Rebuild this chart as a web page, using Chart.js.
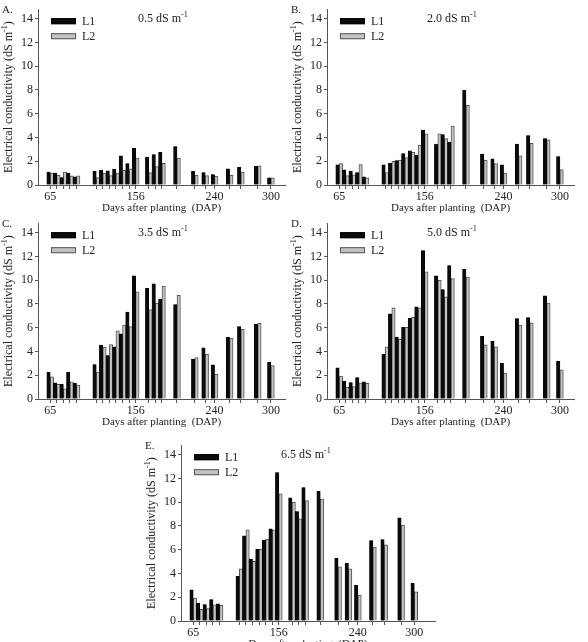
<!DOCTYPE html>
<html>
<head>
<meta charset="utf-8">
<script src="https://cdn.jsdelivr.net/npm/chart.js@4/dist/chart.umd.min.js"></script>
<style>
  body { margin: 0; background: #fff; width: 588px; height: 642px; overflow: hidden; position: relative; }
  canvas { position: absolute; }
</style>
</head>
<body>
<canvas id="cA" width="290" height="215" style="left:0;top:0"></canvas>
<canvas id="cB" width="290" height="215" style="left:289px;top:0"></canvas>
<canvas id="cC" width="290" height="215" style="left:0;top:214px"></canvas>
<canvas id="cD" width="290" height="215" style="left:289px;top:214px"></canvas>
<canvas id="cE" width="300" height="215" style="left:143px;top:436px"></canvas>
<script>
// sampling days (DAP) and labelled ticks
var days = [65, 72, 79, 86, 93, 114, 121, 128, 135, 142, 149, 156, 170, 177, 184, 200, 219, 230, 240, 256, 268, 286, 300];
var dayLabels = [65, 156, 240, 300];
var yTicks = [0, 2, 4, 6, 8, 10, 12, 14];

// EC values, L1 and L2, per salinity level
var l1A = [1.09, 1.0, 0.63, 1.0, 0.68, 1.17, 1.23, 1.2, 1.34, 2.46, 1.8, 3.09, 2.35, 2.57, 2.76, 3.24, 1.15, 1.04, 0.88, 1.37, 1.48, 1.58, 0.6];
var l2A = [1.0, 0.82, 1.09, 0.77, 0.77, 0.62, 1.0, 0.8, 1.0, 1.23, 1.37, 2.26, 1.04, 1.56, 1.83, 2.27, 0.82, 0.8, 0.76, 0.82, 1.09, 1.61, 0.6];
var l1B = [1.69, 1.28, 1.17, 1.04, 0.68, 1.69, 1.83, 2.05, 2.65, 2.88, 2.49, 4.62, 3.45, 4.25, 3.6, 8.0, 2.6, 2.2, 1.7, 3.45, 4.15, 3.9, 2.4];
var l2B = [1.8, 0.8, 0.85, 1.72, 0.6, 1.05, 2.0, 2.1, 2.3, 2.74, 3.36, 4.3, 4.3, 3.9, 4.95, 6.7, 2.1, 1.8, 1.0, 2.45, 3.5, 3.8, 1.3];
var l1C = [2.27, 1.37, 1.23, 2.27, 1.31, 2.9, 4.53, 3.66, 4.4, 5.49, 7.31, 10.37, 9.31, 9.69, 8.41, 7.94, 3.36, 4.31, 2.87, 5.19, 6.09, 6.28, 3.08];
var l2C = [1.86, 1.23, 0.85, 1.45, 1.17, 2.27, 4.37, 4.59, 5.73, 6.22, 6.09, 9.03, 7.53, 8.08, 9.5, 8.73, 3.49, 3.77, 2.07, 5.13, 5.87, 6.36, 2.81];
var l1D = [2.62, 1.5, 1.39, 1.8, 1.45, 3.77, 7.18, 5.21, 6.03, 6.8, 7.75, 12.5, 10.37, 9.22, 11.24, 10.92, 5.27, 4.86, 3.0, 6.77, 6.85, 8.68, 3.17];
var l2D = [1.94, 0.98, 1.04, 1.37, 1.31, 4.4, 7.67, 5.02, 6.03, 6.88, 7.67, 10.7, 9.99, 8.6, 10.13, 10.26, 4.56, 4.4, 2.18, 6.22, 6.41, 8.08, 2.46];
var l1E = [2.62, 1.5, 1.39, 1.8, 1.45, 3.77, 7.18, 5.21, 6.03, 6.8, 7.75, 12.5, 10.37, 9.22, 11.24, 10.92, 5.27, 4.86, 3.0, 6.77, 6.85, 8.68, 3.17];
var l2E = [1.94, 0.98, 1.04, 1.37, 1.31, 4.4, 7.67, 5.02, 6.03, 6.88, 7.67, 10.7, 9.99, 8.6, 10.13, 10.26, 4.56, 4.4, 2.18, 6.22, 6.41, 8.08, 2.46];

var serif = '"Liberation Serif", "Times New Roman", serif';
var textColor = '#222';
var axisColor = '#555';

function toPoints(vals) {
    return vals.map(function (v, i) { return { x: days[i], y: v }; });
}

// text with a superscript part, x = start, y = baseline
function drawSup(ctx, parts, x, y, size) {
    var cx = x;
    parts.forEach(function (p) {
        ctx.font = (p.sup ? size * 0.68 : size) + 'px ' + serif;
        ctx.fillText(p.t, cx, p.sup ? y - size * 0.42 : y);
        cx += ctx.measureText(p.t).width;
    });
}

function measureSup(ctx, parts, size) {
    var w = 0;
    parts.forEach(function (p) {
        ctx.font = (p.sup ? size * 0.68 : size) + 'px ' + serif;
        w += ctx.measureText(p.t).width;
    });
    return w;
}

// panel letter, level label, legend and y title
var panelText = {
    id: 'panelText',
    afterDraw: function (chart, args, opts) {
        var ctx = chart.ctx, a = chart.chartArea;
        ctx.save();
        ctx.fillStyle = textColor;
        ctx.textAlign = 'left';
        ctx.textBaseline = 'alphabetic';
        ctx.font = '11px ' + serif;
        ctx.fillText(opts.letter + '.', 2, 13);

        drawSup(ctx, [{ t: opts.level + ' dS m' }, { t: '-1', sup: true }], a.left + 100, a.top + 13, 12);

        chart.data.datasets.forEach(function (ds, i) {
            var y = a.top + 12 + i * 15;
            ctx.fillStyle = ds.backgroundColor;
            ctx.fillRect(a.left + 13, y - 3, 25, 6);
            ctx.strokeStyle = ds.borderColor;
            ctx.lineWidth = 1;
            ctx.strokeRect(a.left + 13.5, y - 2.5, 24, 5);
            ctx.fillStyle = textColor;
            ctx.font = '12px ' + serif;
            ctx.textBaseline = 'middle';
            ctx.fillText(ds.label, a.left + 44, y + 1);
            ctx.textBaseline = 'alphabetic';
        });

        var parts = [{ t: 'Electrical conductivity (dS m' }, { t: '-1', sup: true }, { t: ')' }];
        ctx.translate(12, (a.top + a.bottom) / 2);
        ctx.rotate(-Math.PI / 2);
        var tw = measureSup(ctx, parts, 12);
        drawSup(ctx, parts, -tw / 2, 0, 12);
        ctx.restore();
    }
};

function makePanel(id, letter, level, l1, l2, xMax) {
    var canvas = document.getElementById(id);
    var H = canvas.height, W = canvas.width;
    var bottom = 185;
    var right = W - (xMax > 315 ? 292 : 285);
    new Chart(canvas, {
        type: 'bar',
        data: {
            datasets: [
                { label: 'L1', data: toPoints(l1), backgroundColor: '#0a0a0a', borderColor: '#000', borderWidth: 0.5 },
                { label: 'L2', data: toPoints(l2), backgroundColor: '#c4c4c4', borderColor: '#555', borderWidth: 1 }
            ]
        },
        options: {
            responsive: false,
            animation: false,
            layout: { padding: { top: 4, right: right, left: 0, bottom: 0 } },
            datasets: { bar: { barThickness: 3.4, grouped: true } },
            plugins: {
                legend: { display: false },
                tooltip: { enabled: false },
                panelText: { letter: letter, level: level }
            },
            scales: {
                x: {
                    type: 'linear',
                    min: 52,
                    max: xMax,
                    offset: false,
                    border: { color: axisColor, width: 1 },
                    grid: { drawOnChartArea: false, drawTicks: true, tickLength: 4, color: axisColor, offset: false },
                    ticks: {
                        autoSkip: false, maxRotation: 0, padding: 1, color: textColor,
                        font: { family: serif, size: 12 },
                        callback: function (v) { return dayLabels.indexOf(v) >= 0 ? String(v) : ''; }
                    },
                    afterBuildTicks: function (s) { s.ticks = days.map(function (v) { return { value: v }; }); },
                    afterFit: function (s) { s.height = H - bottom; },
                    title: {
                        display: true, text: 'Days after planting  (DAP)', color: textColor,
                        font: { family: serif, size: 11 }, padding: { top: 0, bottom: 0 }
                    }
                },
                y: {
                    min: 0,
                    max: 14.8,
                    border: { color: axisColor, width: 1 },
                    grid: { drawOnChartArea: false, drawTicks: true, tickLength: 3, color: axisColor },
                    ticks: { stepSize: 2, padding: 2, color: textColor, font: { family: serif, size: 12 } },
                    afterBuildTicks: function (s) { s.ticks = yTicks.map(function (v) { return { value: v }; }); },
                    afterFit: function (s) { s.width = 38; }
                }
            }
        },
        plugins: [panelText]
    });
}

makePanel('cA', 'A', '0.5', l1A, l2A, 315);
makePanel('cB', 'B', '2.0', l1B, l2B, 315);
makePanel('cC', 'C', '3.5', l1C, l2C, 315);
makePanel('cD', 'D', '5.0', l1D, l2D, 315);
makePanel('cE', 'E', '6.5', l1E, l2E, 322);
</script>
</body>
</html>
